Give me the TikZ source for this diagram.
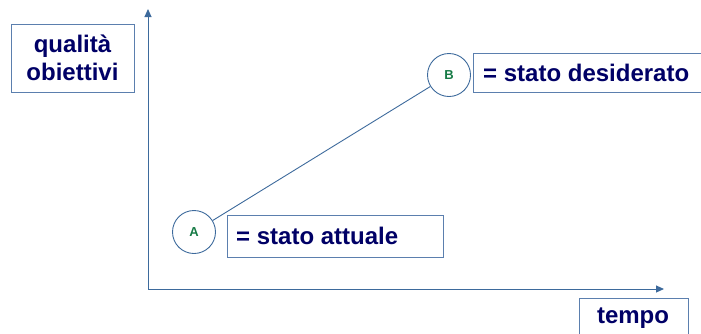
\documentclass[tikz,border=0pt]{standalone}
\usepackage{fontspec}
\setmainfont{Liberation Sans}
\usetikzlibrary{arrows.meta}
\definecolor{navy}{HTML}{000066}
\definecolor{edge}{HTML}{5B7FAE}
\definecolor{axis}{HTML}{3D6A9C}
\definecolor{lettergreen}{HTML}{167A45}
\tikzset{
  labelbox/.style={draw=edge, line width=1pt, text=navy, font=\fontsize{24}{28}\selectfont\bfseries, inner sep=0pt},
  statecircle/.style={circle, draw=axis, line width=0.9pt, minimum size=43pt, inner sep=0pt, text=lettergreen, font=\fontsize{13}{15}\selectfont\bfseries},
  axisline/.style={draw=axis, line width=1pt, -{Triangle[length=8pt,width=7pt]}},
  linkline/.style={draw=axis, line width=0.9pt}
}
\begin{document}
\begin{tikzpicture}[x=1pt,y=-1pt]
\useasboundingbox (0,0) rectangle (701,333);
% axes
\coordinate (origin) at (148,289);
\coordinate (ytop) at (148,9);
\coordinate (xend) at (664,289);
\draw[axisline] (origin) -- (ytop);
\draw[axisline] (origin) -- (xend);
% label boxes
\node[labelbox, minimum width=123pt, minimum height=68pt, align=center] (qual) at (72.5,58) {qualità\\obiettivi};
\node[labelbox, minimum width=109pt, minimum height=40pt, anchor=north west] (tempo) at (579,298) {};
\node[text=navy, font=\fontsize{24}{28}\selectfont\bfseries] (tempotext) at (633,318) {tempo};
\node[labelbox, minimum width=216pt, minimum height=42pt, anchor=north west] (attbox) at (227,215) {};
\node[text=navy, font=\fontsize{24}{28}\selectfont\bfseries, anchor=west, inner sep=0pt] (att) at (236,236) {= stato attuale};
\node[labelbox, minimum width=232pt, minimum height=39pt, anchor=north west] (desbox) at (473,53) {};
\node[text=navy, font=\fontsize{24}{28}\selectfont\bfseries, anchor=west, inner sep=0pt] (des) at (483,73) {= stato desiderato};
% states
\node[statecircle] (A) at (194,232) {A};
\node[statecircle] (B) at (449,75) {B};
\draw[linkline] (A) -- (B);
\end{tikzpicture}
\end{document}
